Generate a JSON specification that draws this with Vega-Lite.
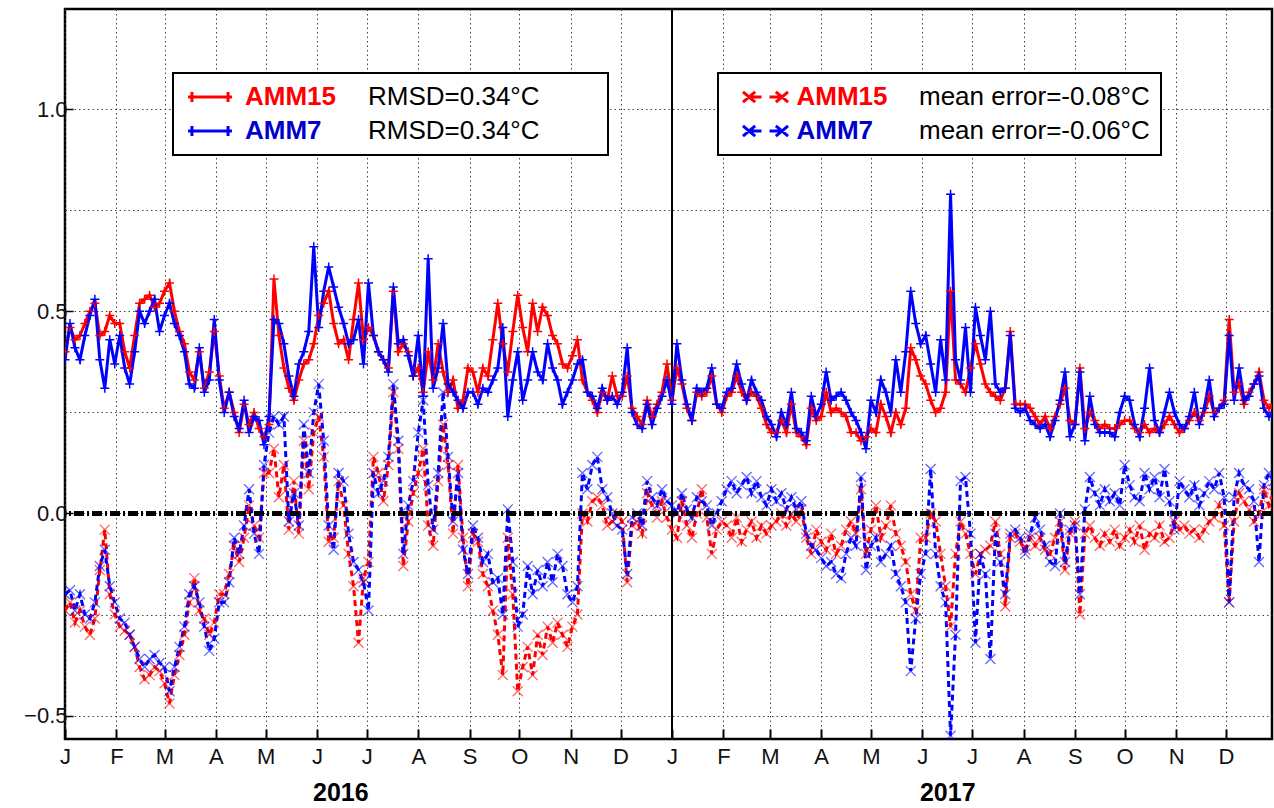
{
"$schema": "https://vega.github.io/schema/vega-lite/v6.json",
"width": 1207, "height": 730,
"autosize": {"type": "none"},
"padding": {"left": 65, "top": 9, "right": 2, "bottom": 69},
"background": "white",
"data": {"values": [
{"date":"2016-01-01","r15":0.40,"r7":0.38,"m15":-0.24,"m7":-0.20},
{"date":"2016-01-04","r15":0.46,"r7":0.47,"m15":-0.22,"m7":-0.19},
{"date":"2016-01-07","r15":0.43,"r7":0.41,"m15":-0.27,"m7":-0.24},
{"date":"2016-01-10","r15":0.44,"r7":0.38,"m15":-0.24,"m7":-0.20},
{"date":"2016-01-13","r15":0.47,"r7":0.44,"m15":-0.28,"m7":-0.25},
{"date":"2016-01-16","r15":0.50,"r7":0.49,"m15":-0.30,"m7":-0.26},
{"date":"2016-01-19","r15":0.52,"r7":0.53,"m15":-0.26,"m7":-0.22},
{"date":"2016-01-22","r15":0.44,"r7":0.38,"m15":-0.14,"m7":-0.13},
{"date":"2016-01-25","r15":0.45,"r7":0.31,"m15":-0.04,"m7":-0.09},
{"date":"2016-01-28","r15":0.49,"r7":0.43,"m15":-0.20,"m7":-0.18},
{"date":"2016-01-31","r15":0.47,"r7":0.37,"m15":-0.25,"m7":-0.22},
{"date":"2016-02-03","r15":0.47,"r7":0.44,"m15":-0.28,"m7":-0.26},
{"date":"2016-02-06","r15":0.40,"r7":0.36,"m15":-0.29,"m7":-0.27},
{"date":"2016-02-09","r15":0.36,"r7":0.32,"m15":-0.30,"m7":-0.30},
{"date":"2016-02-12","r15":0.44,"r7":0.40,"m15":-0.33,"m7":-0.33},
{"date":"2016-02-15","r15":0.52,"r7":0.50,"m15":-0.38,"m7":-0.36},
{"date":"2016-02-18","r15":0.53,"r7":0.47,"m15":-0.41,"m7":-0.38},
{"date":"2016-02-21","r15":0.54,"r7":0.50,"m15":-0.40,"m7":-0.36},
{"date":"2016-02-24","r15":0.51,"r7":0.53,"m15":-0.38,"m7":-0.35},
{"date":"2016-02-27","r15":0.52,"r7":0.45,"m15":-0.39,"m7":-0.37},
{"date":"2016-03-01","r15":0.55,"r7":0.49,"m15":-0.42,"m7":-0.38},
{"date":"2016-03-04","r15":0.57,"r7":0.52,"m15":-0.47,"m7":-0.44},
{"date":"2016-03-07","r15":0.50,"r7":0.47,"m15":-0.40,"m7":-0.38},
{"date":"2016-03-10","r15":0.45,"r7":0.44,"m15":-0.35,"m7":-0.33},
{"date":"2016-03-13","r15":0.42,"r7":0.40,"m15":-0.30,"m7":-0.28},
{"date":"2016-03-16","r15":0.35,"r7":0.32,"m15":-0.22,"m7":-0.20},
{"date":"2016-03-19","r15":0.33,"r7":0.31,"m15":-0.16,"m7":-0.18},
{"date":"2016-03-22","r15":0.40,"r7":0.41,"m15":-0.24,"m7":-0.22},
{"date":"2016-03-25","r15":0.31,"r7":0.30,"m15":-0.26,"m7":-0.28},
{"date":"2016-03-28","r15":0.35,"r7":0.33,"m15":-0.30,"m7":-0.34},
{"date":"2016-03-31","r15":0.45,"r7":0.48,"m15":-0.27,"m7":-0.31},
{"date":"2016-04-03","r15":0.34,"r7":0.33,"m15":-0.20,"m7":-0.22},
{"date":"2016-04-06","r15":0.26,"r7":0.25,"m15":-0.20,"m7":-0.22},
{"date":"2016-04-09","r15":0.30,"r7":0.30,"m15":-0.15,"m7":-0.17},
{"date":"2016-04-12","r15":0.25,"r7":0.24,"m15":-0.08,"m7":-0.06},
{"date":"2016-04-15","r15":0.20,"r7":0.21,"m15":-0.12,"m7":-0.10},
{"date":"2016-04-18","r15":0.27,"r7":0.28,"m15":-0.06,"m7":-0.03},
{"date":"2016-04-21","r15":0.22,"r7":0.20,"m15":0.02,"m7":0.06},
{"date":"2016-04-24","r15":0.25,"r7":0.24,"m15":-0.03,"m7":-0.05},
{"date":"2016-04-27","r15":0.21,"r7":0.23,"m15":-0.06,"m7":-0.10},
{"date":"2016-04-30","r15":0.19,"r7":0.17,"m15":0.10,"m7":0.12},
{"date":"2016-05-03","r15":0.22,"r7":0.24,"m15":0.10,"m7":0.20},
{"date":"2016-05-06","r15":0.58,"r7":0.48,"m15":0.16,"m7":0.24},
{"date":"2016-05-09","r15":0.44,"r7":0.47,"m15":0.04,"m7":0.22},
{"date":"2016-05-12","r15":0.36,"r7":0.42,"m15":0.12,"m7":0.24},
{"date":"2016-05-15","r15":0.31,"r7":0.34,"m15":-0.04,"m7":-0.02},
{"date":"2016-05-18","r15":0.28,"r7":0.29,"m15":0.08,"m7":0.05},
{"date":"2016-05-21","r15":0.33,"r7":0.37,"m15":-0.05,"m7":-0.03},
{"date":"2016-05-24","r15":0.37,"r7":0.40,"m15":0.18,"m7":0.22},
{"date":"2016-05-27","r15":0.38,"r7":0.45,"m15":0.06,"m7":0.10},
{"date":"2016-05-30","r15":0.42,"r7":0.66,"m15":0.20,"m7":0.25},
{"date":"2016-06-02","r15":0.49,"r7":0.46,"m15":0.24,"m7":0.32},
{"date":"2016-06-05","r15":0.52,"r7":0.55,"m15":0.14,"m7":0.18},
{"date":"2016-06-08","r15":0.55,"r7":0.61,"m15":-0.07,"m7":-0.03},
{"date":"2016-06-11","r15":0.47,"r7":0.56,"m15":-0.06,"m7":-0.09},
{"date":"2016-06-14","r15":0.42,"r7":0.51,"m15":0.08,"m7":0.10},
{"date":"2016-06-17","r15":0.43,"r7":0.47,"m15":0.02,"m7":0.08},
{"date":"2016-06-20","r15":0.38,"r7":0.42,"m15":-0.10,"m7":-0.05},
{"date":"2016-06-23","r15":0.48,"r7":0.43,"m15":-0.18,"m7":-0.12},
{"date":"2016-06-26","r15":0.57,"r7":0.48,"m15":-0.32,"m7":-0.14},
{"date":"2016-06-29","r15":0.43,"r7":0.37,"m15":-0.16,"m7":-0.17},
{"date":"2016-07-02","r15":0.46,"r7":0.57,"m15":-0.12,"m7":-0.24},
{"date":"2016-07-05","r15":0.44,"r7":0.44,"m15":0.14,"m7":0.10},
{"date":"2016-07-08","r15":0.40,"r7":0.40,"m15":0.10,"m7":0.05},
{"date":"2016-07-11","r15":0.38,"r7":0.38,"m15":0.03,"m7":0.08},
{"date":"2016-07-14","r15":0.36,"r7":0.35,"m15":0.12,"m7":0.14},
{"date":"2016-07-17","r15":0.55,"r7":0.56,"m15":0.30,"m7":0.32},
{"date":"2016-07-20","r15":0.40,"r7":0.42,"m15":0.16,"m7":0.18},
{"date":"2016-07-23","r15":0.42,"r7":0.43,"m15":-0.13,"m7":-0.10},
{"date":"2016-07-26","r15":0.40,"r7":0.39,"m15":-0.02,"m7":0.02},
{"date":"2016-07-29","r15":0.34,"r7":0.34,"m15":0.05,"m7":0.08},
{"date":"2016-08-01","r15":0.36,"r7":0.44,"m15":0.10,"m7":0.20},
{"date":"2016-08-04","r15":0.30,"r7":0.29,"m15":0.16,"m7":0.28},
{"date":"2016-08-07","r15":0.40,"r7":0.63,"m15":-0.03,"m7":0.07},
{"date":"2016-08-10","r15":0.33,"r7":0.31,"m15":-0.08,"m7":-0.04},
{"date":"2016-08-13","r15":0.42,"r7":0.36,"m15":0.08,"m7":0.10},
{"date":"2016-08-16","r15":0.35,"r7":0.47,"m15":0.22,"m7":0.30},
{"date":"2016-08-19","r15":0.30,"r7":0.32,"m15":0.12,"m7":0.14},
{"date":"2016-08-22","r15":0.33,"r7":0.30,"m15":-0.05,"m7":-0.02},
{"date":"2016-08-25","r15":0.26,"r7":0.28,"m15":0.12,"m7":0.10},
{"date":"2016-08-28","r15":0.28,"r7":0.26,"m15":-0.06,"m7":-0.09},
{"date":"2016-08-31","r15":0.36,"r7":0.30,"m15":-0.18,"m7":-0.15},
{"date":"2016-09-03","r15":0.35,"r7":0.30,"m15":-0.05,"m7":-0.03},
{"date":"2016-09-06","r15":0.30,"r7":0.27,"m15":-0.07,"m7":-0.06},
{"date":"2016-09-09","r15":0.36,"r7":0.31,"m15":-0.15,"m7":-0.12},
{"date":"2016-09-12","r15":0.34,"r7":0.30,"m15":-0.18,"m7":-0.10},
{"date":"2016-09-15","r15":0.43,"r7":0.33,"m15":-0.24,"m7":-0.17},
{"date":"2016-09-18","r15":0.52,"r7":0.36,"m15":-0.30,"m7":-0.16},
{"date":"2016-09-21","r15":0.42,"r7":0.46,"m15":-0.40,"m7":-0.25},
{"date":"2016-09-24","r15":0.35,"r7":0.24,"m15":-0.06,"m7":0.01},
{"date":"2016-09-27","r15":0.45,"r7":0.33,"m15":-0.20,"m7":-0.12},
{"date":"2016-09-30","r15":0.54,"r7":0.40,"m15":-0.44,"m7":-0.28},
{"date":"2016-10-03","r15":0.46,"r7":0.28,"m15":-0.38,"m7":-0.25},
{"date":"2016-10-06","r15":0.40,"r7":0.33,"m15":-0.33,"m7":-0.13},
{"date":"2016-10-09","r15":0.52,"r7":0.40,"m15":-0.40,"m7":-0.20},
{"date":"2016-10-12","r15":0.45,"r7":0.35,"m15":-0.30,"m7":-0.14},
{"date":"2016-10-15","r15":0.51,"r7":0.33,"m15":-0.35,"m7":-0.18},
{"date":"2016-10-18","r15":0.49,"r7":0.42,"m15":-0.28,"m7":-0.12},
{"date":"2016-10-21","r15":0.44,"r7":0.36,"m15":-0.32,"m7":-0.17},
{"date":"2016-10-24","r15":0.42,"r7":0.33,"m15":-0.27,"m7":-0.10},
{"date":"2016-10-27","r15":0.37,"r7":0.27,"m15":-0.30,"m7":-0.13},
{"date":"2016-10-30","r15":0.36,"r7":0.30,"m15":-0.33,"m7":-0.20},
{"date":"2016-11-02","r15":0.39,"r7":0.33,"m15":-0.28,"m7":-0.22},
{"date":"2016-11-05","r15":0.43,"r7":0.37,"m15":-0.25,"m7":-0.18},
{"date":"2016-11-08","r15":0.33,"r7":0.38,"m15":0.00,"m7":0.10},
{"date":"2016-11-11","r15":0.30,"r7":0.30,"m15":-0.02,"m7":0.06},
{"date":"2016-11-14","r15":0.28,"r7":0.29,"m15":0.03,"m7":0.12},
{"date":"2016-11-17","r15":0.25,"r7":0.26,"m15":0.04,"m7":0.14},
{"date":"2016-11-20","r15":0.30,"r7":0.31,"m15":0.02,"m7":0.06},
{"date":"2016-11-23","r15":0.28,"r7":0.28,"m15":-0.03,"m7":0.04},
{"date":"2016-11-26","r15":0.34,"r7":0.29,"m15":-0.02,"m7":0.00},
{"date":"2016-11-29","r15":0.29,"r7":0.27,"m15":0.00,"m7":-0.03},
{"date":"2016-12-02","r15":0.29,"r7":0.30,"m15":-0.02,"m7":-0.04},
{"date":"2016-12-05","r15":0.34,"r7":0.41,"m15":-0.17,"m7":-0.15},
{"date":"2016-12-08","r15":0.26,"r7":0.25,"m15":-0.03,"m7":-0.01},
{"date":"2016-12-11","r15":0.24,"r7":0.22,"m15":-0.02,"m7":0.00},
{"date":"2016-12-14","r15":0.22,"r7":0.21,"m15":-0.05,"m7":-0.03},
{"date":"2016-12-17","r15":0.28,"r7":0.27,"m15":0.05,"m7":0.08},
{"date":"2016-12-20","r15":0.24,"r7":0.22,"m15":0.02,"m7":0.04},
{"date":"2016-12-23","r15":0.27,"r7":0.26,"m15":-0.01,"m7":0.02},
{"date":"2016-12-26","r15":0.30,"r7":0.29,"m15":0.03,"m7":0.06},
{"date":"2016-12-29","r15":0.37,"r7":0.33,"m15":-0.01,"m7":0.03},
{"date":"2017-01-01","r15":0.28,"r7":0.27,"m15":-0.04,"m7":0.02},
{"date":"2017-01-04","r15":0.36,"r7":0.42,"m15":-0.06,"m7":0.00},
{"date":"2017-01-07","r15":0.32,"r7":0.33,"m15":0.03,"m7":0.05},
{"date":"2017-01-10","r15":0.26,"r7":0.27,"m15":-0.03,"m7":0.01},
{"date":"2017-01-13","r15":0.23,"r7":0.23,"m15":-0.06,"m7":-0.01},
{"date":"2017-01-16","r15":0.30,"r7":0.31,"m15":0.00,"m7":0.04},
{"date":"2017-01-19","r15":0.29,"r7":0.30,"m15":0.06,"m7":0.03},
{"date":"2017-01-22","r15":0.30,"r7":0.31,"m15":-0.01,"m7":0.02},
{"date":"2017-01-25","r15":0.34,"r7":0.36,"m15":-0.10,"m7":-0.03},
{"date":"2017-01-28","r15":0.27,"r7":0.27,"m15":-0.04,"m7":0.00},
{"date":"2017-01-31","r15":0.25,"r7":0.26,"m15":-0.02,"m7":0.03},
{"date":"2017-02-03","r15":0.29,"r7":0.30,"m15":-0.03,"m7":0.06},
{"date":"2017-02-06","r15":0.30,"r7":0.31,"m15":-0.06,"m7":0.08},
{"date":"2017-02-09","r15":0.34,"r7":0.37,"m15":-0.01,"m7":0.05},
{"date":"2017-02-12","r15":0.30,"r7":0.32,"m15":-0.07,"m7":0.07},
{"date":"2017-02-15","r15":0.28,"r7":0.28,"m15":-0.04,"m7":0.09},
{"date":"2017-02-18","r15":0.30,"r7":0.33,"m15":-0.02,"m7":0.05},
{"date":"2017-02-21","r15":0.29,"r7":0.30,"m15":-0.06,"m7":0.08},
{"date":"2017-02-24","r15":0.26,"r7":0.28,"m15":-0.03,"m7":0.04},
{"date":"2017-02-27","r15":0.22,"r7":0.24,"m15":-0.05,"m7":0.02},
{"date":"2017-03-02","r15":0.20,"r7":0.22,"m15":-0.03,"m7":0.06},
{"date":"2017-03-05","r15":0.20,"r7":0.19,"m15":-0.02,"m7":0.03},
{"date":"2017-03-08","r15":0.23,"r7":0.25,"m15":0.00,"m7":0.05},
{"date":"2017-03-11","r15":0.20,"r7":0.22,"m15":-0.03,"m7":0.01},
{"date":"2017-03-14","r15":0.27,"r7":0.30,"m15":0.00,"m7":0.04},
{"date":"2017-03-17","r15":0.20,"r7":0.21,"m15":-0.02,"m7":0.01},
{"date":"2017-03-20","r15":0.19,"r7":0.20,"m15":0.01,"m7":0.03},
{"date":"2017-03-23","r15":0.17,"r7":0.18,"m15":-0.06,"m7":-0.05},
{"date":"2017-03-26","r15":0.26,"r7":0.29,"m15":-0.10,"m7":-0.08},
{"date":"2017-03-29","r15":0.23,"r7":0.24,"m15":-0.04,"m7":-0.09},
{"date":"2017-04-01","r15":0.24,"r7":0.27,"m15":-0.07,"m7":-0.11},
{"date":"2017-04-04","r15":0.30,"r7":0.35,"m15":-0.09,"m7":-0.13},
{"date":"2017-04-07","r15":0.25,"r7":0.28,"m15":-0.05,"m7":-0.12},
{"date":"2017-04-10","r15":0.26,"r7":0.29,"m15":-0.10,"m7":-0.15},
{"date":"2017-04-13","r15":0.25,"r7":0.30,"m15":-0.08,"m7":-0.16},
{"date":"2017-04-16","r15":0.24,"r7":0.28,"m15":-0.04,"m7":-0.10},
{"date":"2017-04-19","r15":0.20,"r7":0.25,"m15":-0.02,"m7":-0.06},
{"date":"2017-04-22","r15":0.20,"r7":0.23,"m15":-0.05,"m7":-0.08},
{"date":"2017-04-25","r15":0.18,"r7":0.20,"m15":0.06,"m7":0.09},
{"date":"2017-04-28","r15":0.19,"r7":0.16,"m15":-0.10,"m7":-0.14},
{"date":"2017-05-01","r15":0.21,"r7":0.28,"m15":-0.04,"m7":-0.08},
{"date":"2017-05-04","r15":0.20,"r7":0.25,"m15":0.02,"m7":-0.06},
{"date":"2017-05-07","r15":0.27,"r7":0.33,"m15":-0.06,"m7":-0.12},
{"date":"2017-05-10","r15":0.24,"r7":0.30,"m15":-0.03,"m7":-0.10},
{"date":"2017-05-13","r15":0.20,"r7":0.25,"m15":0.02,"m7":-0.08},
{"date":"2017-05-16","r15":0.25,"r7":0.38,"m15":-0.05,"m7":-0.15},
{"date":"2017-05-19","r15":0.22,"r7":0.30,"m15":-0.08,"m7":-0.18},
{"date":"2017-05-22","r15":0.26,"r7":0.40,"m15":-0.12,"m7":-0.22},
{"date":"2017-05-25","r15":0.41,"r7":0.55,"m15":-0.20,"m7":-0.39},
{"date":"2017-05-28","r15":0.38,"r7":0.47,"m15":-0.24,"m7":-0.26},
{"date":"2017-05-31","r15":0.34,"r7":0.42,"m15":-0.06,"m7":-0.15},
{"date":"2017-06-03","r15":0.32,"r7":0.44,"m15":-0.06,"m7":-0.10},
{"date":"2017-06-06","r15":0.28,"r7":0.37,"m15":0.00,"m7":0.11},
{"date":"2017-06-09","r15":0.25,"r7":0.30,"m15":-0.02,"m7":-0.10},
{"date":"2017-06-12","r15":0.26,"r7":0.43,"m15":-0.10,"m7":-0.18},
{"date":"2017-06-15","r15":0.30,"r7":0.33,"m15":-0.18,"m7":-0.22},
{"date":"2017-06-18","r15":0.55,"r7":0.79,"m15":-0.28,"m7":-0.55},
{"date":"2017-06-21","r15":0.33,"r7":0.38,"m15":-0.10,"m7":-0.30},
{"date":"2017-06-24","r15":0.32,"r7":0.33,"m15":-0.02,"m7":0.08},
{"date":"2017-06-27","r15":0.30,"r7":0.46,"m15":-0.05,"m7":0.09},
{"date":"2017-06-30","r15":0.36,"r7":0.30,"m15":-0.10,"m7":-0.05},
{"date":"2017-07-03","r15":0.42,"r7":0.51,"m15":-0.15,"m7":-0.32},
{"date":"2017-07-06","r15":0.37,"r7":0.44,"m15":-0.10,"m7":-0.10},
{"date":"2017-07-09","r15":0.32,"r7":0.38,"m15":-0.09,"m7":-0.15},
{"date":"2017-07-12","r15":0.30,"r7":0.50,"m15":-0.08,"m7":-0.36},
{"date":"2017-07-15","r15":0.29,"r7":0.32,"m15":-0.02,"m7":-0.05},
{"date":"2017-07-18","r15":0.28,"r7":0.30,"m15":-0.10,"m7":-0.12},
{"date":"2017-07-21","r15":0.31,"r7":0.31,"m15":-0.23,"m7":-0.20},
{"date":"2017-07-24","r15":0.45,"r7":0.44,"m15":-0.06,"m7":-0.05},
{"date":"2017-07-27","r15":0.27,"r7":0.26,"m15":-0.05,"m7":-0.04},
{"date":"2017-07-30","r15":0.27,"r7":0.25,"m15":-0.07,"m7":-0.06},
{"date":"2017-08-02","r15":0.27,"r7":0.26,"m15":-0.09,"m7":-0.10},
{"date":"2017-08-05","r15":0.26,"r7":0.23,"m15":-0.06,"m7":-0.05},
{"date":"2017-08-08","r15":0.24,"r7":0.22,"m15":-0.08,"m7":-0.01},
{"date":"2017-08-11","r15":0.22,"r7":0.21,"m15":-0.06,"m7":-0.04},
{"date":"2017-08-14","r15":0.24,"r7":0.22,"m15":-0.09,"m7":-0.08},
{"date":"2017-08-17","r15":0.21,"r7":0.19,"m15":-0.10,"m7":-0.12},
{"date":"2017-08-20","r15":0.24,"r7":0.23,"m15":-0.06,"m7":-0.13},
{"date":"2017-08-23","r15":0.27,"r7":0.28,"m15":-0.02,"m7":0.00},
{"date":"2017-08-26","r15":0.31,"r7":0.35,"m15":-0.14,"m7":-0.12},
{"date":"2017-08-29","r15":0.23,"r7":0.19,"m15":-0.05,"m7":-0.04},
{"date":"2017-09-01","r15":0.22,"r7":0.22,"m15":-0.02,"m7":-0.03},
{"date":"2017-09-04","r15":0.36,"r7":0.35,"m15":-0.25,"m7":-0.20},
{"date":"2017-09-07","r15":0.21,"r7":0.18,"m15":-0.05,"m7":0.01},
{"date":"2017-09-10","r15":0.25,"r7":0.29,"m15":-0.03,"m7":0.09},
{"date":"2017-09-13","r15":0.23,"r7":0.22,"m15":-0.06,"m7":0.05},
{"date":"2017-09-16","r15":0.21,"r7":0.20,"m15":-0.08,"m7":0.02},
{"date":"2017-09-19","r15":0.22,"r7":0.20,"m15":-0.05,"m7":0.06},
{"date":"2017-09-22","r15":0.21,"r7":0.20,"m15":-0.07,"m7":0.03},
{"date":"2017-09-25","r15":0.21,"r7":0.19,"m15":-0.04,"m7":0.05},
{"date":"2017-09-28","r15":0.22,"r7":0.25,"m15":-0.08,"m7":0.02},
{"date":"2017-10-01","r15":0.23,"r7":0.29,"m15":-0.06,"m7":0.12},
{"date":"2017-10-04","r15":0.23,"r7":0.28,"m15":-0.04,"m7":0.07},
{"date":"2017-10-07","r15":0.21,"r7":0.22,"m15":-0.07,"m7":0.04},
{"date":"2017-10-10","r15":0.20,"r7":0.19,"m15":-0.03,"m7":0.03},
{"date":"2017-10-13","r15":0.22,"r7":0.26,"m15":-0.09,"m7":0.10},
{"date":"2017-10-16","r15":0.20,"r7":0.36,"m15":-0.05,"m7":0.06},
{"date":"2017-10-19","r15":0.21,"r7":0.23,"m15":-0.06,"m7":0.09},
{"date":"2017-10-22","r15":0.20,"r7":0.20,"m15":-0.03,"m7":0.04},
{"date":"2017-10-25","r15":0.22,"r7":0.25,"m15":-0.07,"m7":0.11},
{"date":"2017-10-28","r15":0.24,"r7":0.30,"m15":-0.06,"m7":0.03},
{"date":"2017-10-31","r15":0.22,"r7":0.25,"m15":-0.02,"m7":-0.04},
{"date":"2017-11-03","r15":0.20,"r7":0.22,"m15":-0.04,"m7":0.08},
{"date":"2017-11-06","r15":0.21,"r7":0.21,"m15":-0.03,"m7":0.06},
{"date":"2017-11-09","r15":0.23,"r7":0.24,"m15":-0.05,"m7":0.04},
{"date":"2017-11-12","r15":0.25,"r7":0.30,"m15":-0.04,"m7":0.07},
{"date":"2017-11-15","r15":0.23,"r7":0.22,"m15":-0.06,"m7":0.02},
{"date":"2017-11-18","r15":0.25,"r7":0.26,"m15":-0.04,"m7":0.05},
{"date":"2017-11-21","r15":0.29,"r7":0.33,"m15":-0.02,"m7":0.08},
{"date":"2017-11-24","r15":0.25,"r7":0.24,"m15":-0.01,"m7":0.06},
{"date":"2017-11-27","r15":0.26,"r7":0.26,"m15":0.02,"m7":0.10},
{"date":"2017-11-30","r15":0.28,"r7":0.27,"m15":-0.03,"m7":0.04},
{"date":"2017-12-03","r15":0.48,"r7":0.44,"m15":-0.22,"m7":-0.22},
{"date":"2017-12-06","r15":0.30,"r7":0.28,"m15":-0.02,"m7":0.04},
{"date":"2017-12-09","r15":0.32,"r7":0.36,"m15":0.05,"m7":0.10},
{"date":"2017-12-12","r15":0.27,"r7":0.28,"m15":0.03,"m7":0.07},
{"date":"2017-12-15","r15":0.30,"r7":0.29,"m15":0.01,"m7":0.06},
{"date":"2017-12-18","r15":0.32,"r7":0.32,"m15":-0.02,"m7":0.03},
{"date":"2017-12-21","r15":0.35,"r7":0.34,"m15":0.00,"m7":-0.12},
{"date":"2017-12-24","r15":0.28,"r7":0.26,"m15":0.06,"m7":0.07},
{"date":"2017-12-27","r15":0.26,"r7":0.24,"m15":0.02,"m7":0.10},
{"date":"2017-12-30","r15":0.27,"r7":0.25,"m15":0.05,"m7":0.08}
]},
"layer": [
{
 "mark": {"type": "rule", "color": "black", "strokeWidth": 1},
 "encoding": {
  "x": {"datum": {"year": 2017, "month": 1, "date": 1, "utc": true}, "type": "temporal",
   "axis": {"orient": "bottom", "title": null,
    "values": [{"year": 2016, "month": 6, "date": 15, "utc": true}, {"year": 2017, "month": 6, "date": 16, "utc": true}],
    "labelExpr": "utcFormat(datum.value, '%Y')",
    "labelFont": "Liberation Sans", "labelFontSize": 25, "labelFontWeight": "bold", "labelColor": "black",
    "labelPadding": 41, "labelFlush": false, "labelOverlap": false,
    "ticks": false, "grid": false, "domain": false}}
 }
},
{
 "transform": [{"fold": ["r15", "r7"], "as": ["series", "value"]}],
 "encoding": {
  "x": {"field": "date", "type": "temporal",
   "scale": {"type": "utc", "domain": [{"year": 2016, "month": 1, "date": 1, "utc": true}, {"year": 2017, "month": 12, "date": 28, "hours": 20, "utc": true}]},
   "axis": {"orient": "bottom", "title": null, "tickCount": {"interval": "month", "step": 1},
    "labelExpr": "slice(utcFormat(datum.value, '%b'), 0, 1)",
    "labelFont": "Liberation Sans", "labelFontSize": 22, "labelColor": "#111111", "labelPadding": 17,
    "labelFlush": false, "labelOverlap": false, "labelAlign": "center",
    "tickSize": -10, "tickWidth": 2, "tickColor": "black", "domain": false,
    "grid": true, "gridColor": "#444444", "gridDash": [1.5, 3], "gridWidth": 1}},
  "y": {"field": "value", "type": "quantitative",
   "scale": {"domain": [-0.558, 1.248], "nice": false, "zero": false},
   "axis": {"title": null, "values": [-0.5, -0.25, 0, 0.25, 0.5, 0.75, 1], "format": ".1f",
    "labelExpr": "abs(datum.value*2 - round(datum.value*2)) < 0.001 ? datum.label : ''",
    "labelFont": "Liberation Sans", "labelFontSize": 22, "labelColor": "#111111", "labelPadding": 6,
    "tickSize": -8, "tickWidth": 1.5,
    "tickColor": {"expr": "abs(datum.value*2 - round(datum.value*2)) < 0.001 ? 'black' : 'transparent'"},
    "domain": false,
    "grid": true, "gridColor": "#444444", "gridDash": [1.5, 3], "gridWidth": 1}},
  "color": {"field": "series", "type": "nominal",
   "scale": {"domain": ["r15", "r7"], "range": ["#ff0000", "#0000ff"]},
   "legend": {"orient": "none", "legendX": 108, "legendY": 64, "direction": "vertical",
    "title": ["RMSD=0.34°C\u2800\u2800\u2800", "RMSD=0.34°C"],
    "titleOrient": "right", "titleAnchor": "start", "titleBaseline": "top", "titleLineHeight": 34,
    "titlePadding": 32, "titleFont": "Liberation Sans", "titleFontSize": 26, "titleFontWeight": "normal",
    "titleColor": "black", "titleLimit": 1000,
    "labelExpr": "datum.value == 'r15' ? 'AMM15' : 'AMM7'",
    "labelColor": {"expr": "datum.value == 'r15' ? '#ff0000' : '#0000cc'"},
    "labelFont": "Liberation Sans", "labelFontSize": 26, "labelFontWeight": "bold", "labelOffset": 22, "labelLimit": 400,
    "symbolType": "M-1.91,0L1.91,0M-1.57,-0.43L-1.57,0.43M1.57,-0.43L1.57,0.43",
    "symbolSize": 529, "symbolStrokeWidth": 3, "symbolOffset": 13, "symbolFillColor": "transparent", "symbolOpacity": 1,
    "rowPadding": 8, "padding": 11, "strokeColor": "black", "fillColor": "white", "cornerRadius": 0}}
 },
 "layer": [
  {"mark": {"type": "line", "clip": true}, "encoding": {"strokeWidth": {"value": 2.5}}},
  {"mark": {"type": "point", "clip": true, "filled": false, "shape": "M-1,0L1,0M0,-1L0,1"},
   "encoding": {"size": {"value": 81}, "strokeWidth": {"value": 1.5}, "opacity": {"value": 1}}}
 ]
},
{
 "transform": [{"fold": ["m15", "m7"], "as": ["series", "value"]}],
 "encoding": {
  "x": {"field": "date", "type": "temporal", "axis": null},
  "y": {"field": "value", "type": "quantitative", "axis": null},
  "color": {"field": "series", "type": "nominal",
   "scale": {"domain": ["m15", "m7"], "range": ["#ff0000", "#0000ff"]},
   "legend": {"orient": "none", "legendX": 653, "legendY": 64, "direction": "vertical",
    "title": ["mean error=-0.08°C", "mean error=-0.06°C"],
    "titleOrient": "right", "titleAnchor": "start", "titleBaseline": "top", "titleLineHeight": 34,
    "titlePadding": 31, "titleFont": "Liberation Sans", "titleFontSize": 26, "titleFontWeight": "normal",
    "titleColor": "black", "titleLimit": 1000,
    "labelExpr": "datum.value == 'm15' ? 'AMM15' : 'AMM7'",
    "labelColor": {"expr": "datum.value == 'm15' ? '#ff0000' : '#0000cc'"},
    "labelFont": "Liberation Sans", "labelFontSize": 26, "labelFontWeight": "bold", "labelOffset": 18, "labelLimit": 400,
    "symbolType": "M-1.96,-0.45L-0.9,0.45M-1.96,0.45L-0.9,-0.45M-1.43,0L-0.35,0M0.35,0L1.43,0M0.9,-0.45L1.96,0.45M0.9,0.45L1.96,-0.45",
    "symbolSize": 529, "symbolStrokeWidth": 2.5, "symbolOffset": 23.5, "symbolFillColor": "transparent", "symbolOpacity": 1,
    "rowPadding": 8, "padding": 11, "strokeColor": "black", "fillColor": "white", "cornerRadius": 0}}
 },
 "layer": [
  {"mark": {"type": "line", "clip": true}, "encoding": {"strokeWidth": {"value": 3}, "strokeDash": {"value": [6, 4]}}},
  {"mark": {"type": "point", "clip": true, "filled": false, "shape": "M-1,-1L1,1M-1,1L1,-1"},
   "encoding": {"size": {"value": 100}, "strokeWidth": {"value": 1.3}, "opacity": {"value": 0.6}}}
 ]
},
{
 "mark": {"type": "rule", "color": "black", "strokeWidth": 3.5, "strokeDash": [10, 3, 2, 3]},
 "encoding": {"y": {"datum": 0, "type": "quantitative", "axis": null}}
}
],
"resolve": {"scale": {"color": "independent"}, "axis": {"x": "independent", "y": "independent"}},
"config": {
 "view": {"stroke": "black", "strokeWidth": 2.5},
 "font": "Liberation Sans",
 "line": {"strokeWidth": 3},
 "point": {"strokeWidth": 3},
 "legend": {"strokeWidth": 2}
}
}
